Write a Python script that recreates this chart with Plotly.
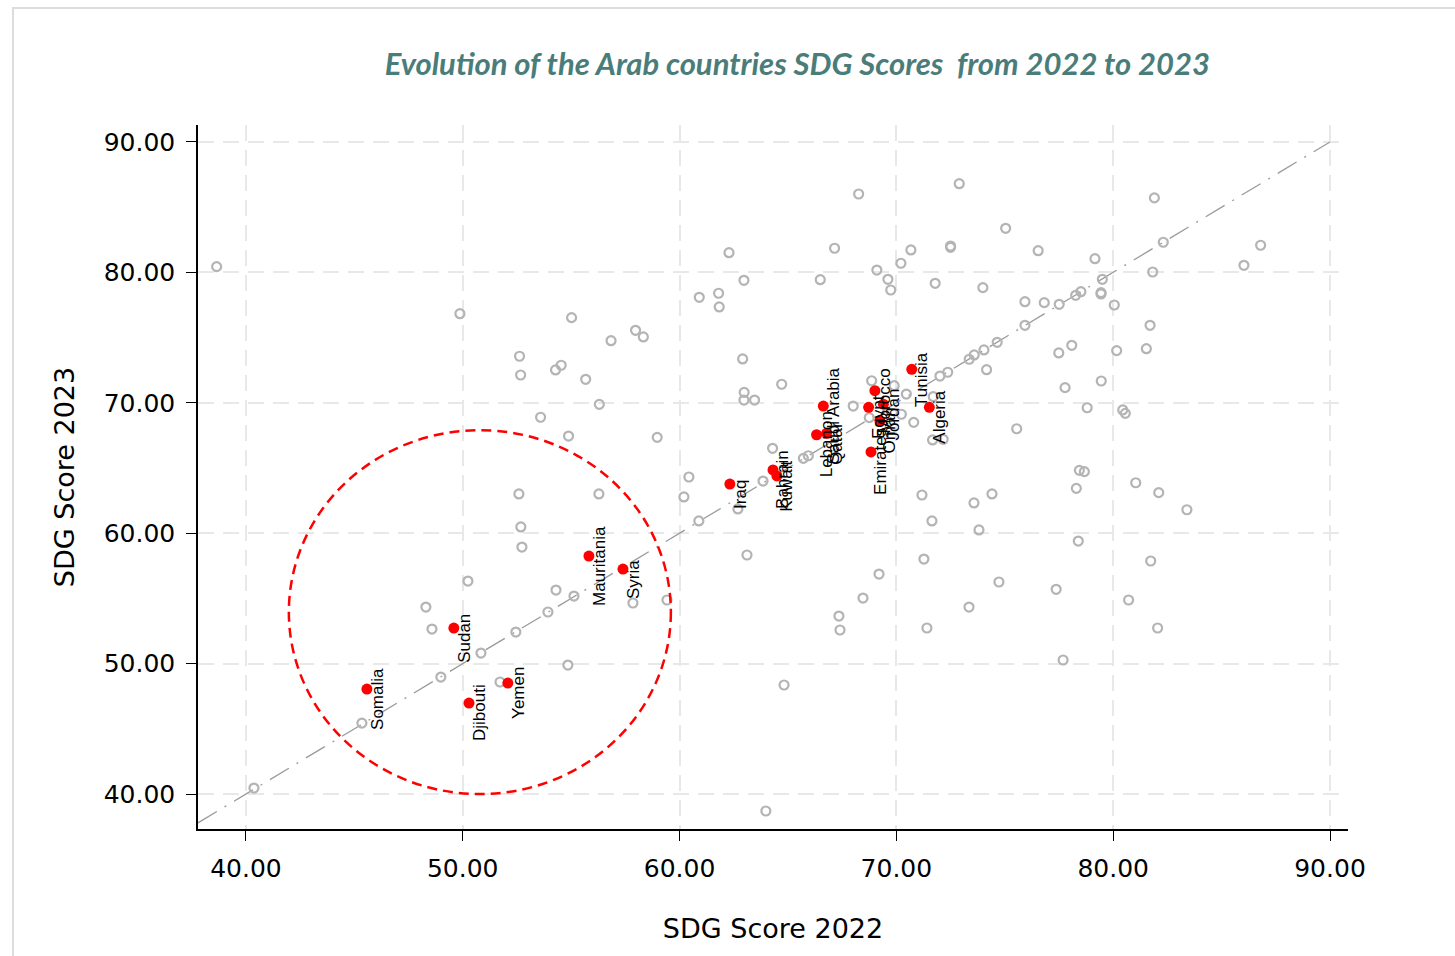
import plotly.graph_objects as go

# ---- Arab countries (highlighted) ----
arab_names = ["Somalia", "Sudan", "Djibouti", "Yemen", "Mauritania", "Syria", "Iraq",
              "Bahrain", "Kuwait", "Lebanon", "Saudi Arabia", "Qatar", "Emirates",
              "Egypt", "Morocco", "Jordan", "Oman", "Tunisia", "Algeria"]
arab_2022 = [45.58, 49.59, 50.29, 52.08, 55.82, 57.39, 62.32,
             64.31, 64.49, 66.32, 66.63, 66.78, 68.83,
             68.72, 69.01, 69.40, 69.24, 70.71, 71.52]
arab_2023 = [48.05, 52.73, 46.98, 48.51, 58.25, 57.25, 63.77,
             64.85, 64.39, 67.55, 69.75, 67.66, 66.23,
             69.65, 70.93, 69.89, 68.63, 72.57, 69.65]

# ---- other countries (gray) ----
other_2022 = [38.65, 49.87, 55.02, 52.62, 52.67, 54.28, 54.54, 55.67, 56.84, 57.97,
              58.33, 56.30, 53.59, 54.88, 68.26, 72.90, 75.04, 62.28, 67.15, 70.67,
              72.50, 72.50, 69.10, 70.21, 66.49, 62.97, 69.61, 69.74, 71.79, 73.99,
              75.93, 60.91, 61.80, 61.83, 75.93, 74.65, 74.04, 73.59, 73.36, 74.16,
              72.37, 72.01, 62.91, 64.71, 62.98, 62.97, 63.46, 58.97, 64.29, 68.01,
              68.86, 69.90, 70.46, 68.75, 70.23, 70.80, 71.70, 75.55, 71.67, 72.16,
              81.90, 76.54, 79.16, 82.31, 86.80, 86.03, 81.82, 79.50, 79.44, 79.44,
              78.51, 78.27, 76.82, 77.51, 80.05, 81.70, 77.49, 78.09, 80.16, 81.53,
              79.45, 77.78, 78.80, 80.44, 80.56, 78.44, 78.67, 78.30, 81.04, 82.10,
              83.40, 78.39, 81.73, 77.37, 80.71, 82.05, 77.69, 65.71, 65.94, 60.43,
              60.20, 63.85, 62.69, 60.89, 63.11, 59.42, 71.18, 74.41, 73.58, 71.64,
              73.81, 71.27, 74.73, 69.20, 68.46, 67.35, 67.40, 73.35, 71.41, 64.82,
              63.98, 52.59, 56.28, 52.68, 52.73, 50.24, 54.30, 55.13, 53.93, 57.85,
              48.30, 48.58, 52.45, 50.84, 54.85, 48.99, 51.72, 45.35, 40.37]
other_2023 = [80.44, 76.83, 76.53, 73.57, 72.13, 72.52, 72.88, 71.80, 74.76, 75.56,
              75.05, 69.88, 68.89, 67.45, 86.01, 86.80, 83.38, 81.51, 81.85, 81.72,
              82.02, 81.92, 80.18, 80.70, 79.44, 79.39, 79.47, 78.65, 79.16, 78.83,
              77.75, 78.09, 78.40, 77.35, 75.94, 74.64, 74.05, 73.67, 73.34, 72.54,
              72.34, 72.05, 73.36, 71.42, 70.80, 70.21, 70.21, 67.35, 66.51, 69.75,
              71.69, 71.31, 70.67, 68.86, 69.12, 68.50, 70.47, 68.01, 67.15, 67.20,
              85.71, 81.66, 81.05, 82.31, 82.08, 80.54, 80.03, 79.47, 78.44, 78.34,
              78.52, 78.24, 77.68, 77.55, 77.50, 75.94, 73.82, 74.41, 74.00, 74.15,
              71.67, 71.16, 69.62, 69.45, 69.19, 64.82, 64.72, 63.44, 63.87, 63.11,
              61.80, 59.40, 57.87, 55.70, 54.88, 52.73, 50.28, 65.74, 65.94, 64.31,
              62.78, 64.00, 61.86, 60.94, 58.33, 54.88, 62.93, 63.01, 62.32, 60.94,
              60.25, 58.02, 56.26, 56.87, 55.03, 53.65, 52.58, 54.34, 52.73, 48.36,
              38.70, 63.01, 63.01, 60.48, 58.94, 56.33, 55.64, 55.18, 53.96, 54.65,
              54.34, 52.65, 52.42, 50.81, 49.89, 48.97, 48.59, 45.44, 40.46]

tick_vals = [40, 50, 60, 70, 80, 90]
x_range = [37.79, 90.83]
y_range = [37.32, 91.30]
diag_ends = [37.79, 90.0]

# highlight circle (data units)
circle_x = [41.98, 59.60]
circle_y = [40.00, 67.90]

title_text = "Evolution of the Arab countries SDG Scores  from 2022 to 2023"

fig = go.Figure()

fig.add_trace(go.Scatter(
    x=diag_ends, y=diag_ends, mode="lines",
    line=dict(color="#9a9a9a", width=1.3, dash="22px,9px,2px,9px"),
    hoverinfo="skip", showlegend=False))

fig.add_trace(go.Scatter(
    x=other_2022, y=other_2023, mode="markers",
    marker=dict(symbol="circle-open", size=9, color="#b4b4b4", line=dict(width=2.2, color="#b4b4b4")),
    showlegend=False))

fig.add_trace(go.Scatter(
    x=arab_2022, y=arab_2023, mode="markers", text=arab_names,
    marker=dict(symbol="circle", size=11, color="#ff0000"),
    showlegend=False))

for n, xv, yv in zip(arab_names, arab_2022, arab_2023):
    fig.add_annotation(x=xv, y=yv, text=n, showarrow=False, textangle=-90,
                       xanchor="center", yanchor="middle", xshift=10, yshift=-10,
                       font=dict(family="Liberation Sans, Arial", size=17, color="black"))

fig.add_shape(type="circle", xref="x", yref="y",
              x0=circle_x[0], x1=circle_x[1], y0=circle_y[0], y1=circle_y[1],
              line=dict(color="#ff0000", width=2.5, dash="10px,6px"), layer="above")

# outer frame
fig.add_shape(type="rect", xref="paper", yref="paper",
              x0=-0.1609, x1=1.106, y0=-0.2003, y1=1.1662,
              line=dict(color="#dcdcdc", width=2), layer="below")

axis_common = dict(
    tickvals=tick_vals, tickformat=".2f",
    showline=True, linecolor="black", linewidth=1.5, mirror=False,
    ticks="outside", ticklen=10, tickwidth=1.3, tickcolor="black",
    showgrid=True, gridcolor="#e8e8e8", gridwidth=2, griddash="16px,9px",
    zeroline=False,
    tickfont=dict(family="DejaVu Sans", size=25, color="black"),
)

fig.update_layout(
    width=1455, height=956,
    margin=dict(l=198, r=107, t=125, b=127),
    paper_bgcolor="white", plot_bgcolor="white",
    title=dict(text="<b><i>" + title_text + "</i></b>",
               font=dict(family="Lato", size=31, color="#4a7d7a"),
               x=0.548, xref="container", xanchor="center",
               y=1 - 64 / 956, yref="container", yanchor="middle"),
    xaxis=dict(range=x_range, title=dict(text="SDG Score 2022", standoff=37,
               font=dict(family="DejaVu Sans", size=27, color="black")),
               ticklabelstandoff=6, **axis_common),
    yaxis=dict(range=y_range, title=dict(text="SDG Score 2023", standoff=21,
               font=dict(family="DejaVu Sans", size=27, color="black")),
               ticklabelstandoff=6, **axis_common),
    showlegend=False,
)

fig.write_html("out.html", config={"displayModeBar": False},
               post_script="document.body.style.margin='0';")
